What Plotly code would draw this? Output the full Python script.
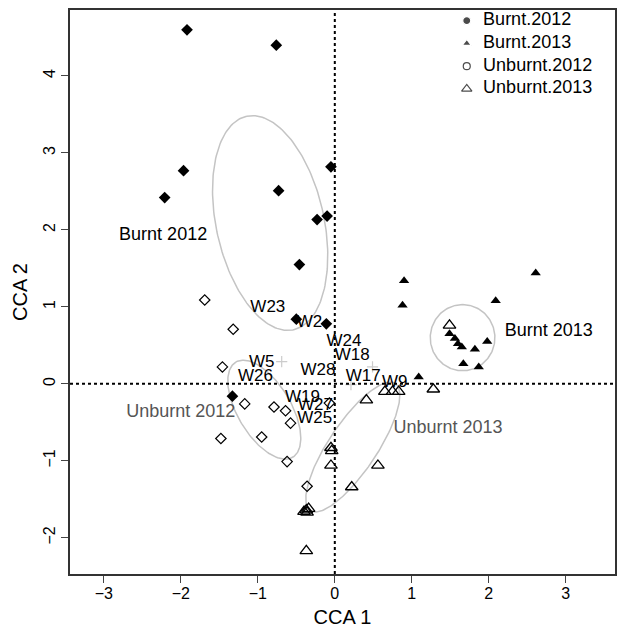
import numpy as np
import plotly.graph_objects as go

# ---- site scores ----
burnt2012_x = [-1.92, -0.76, -1.965, -2.21, -0.73, -0.23, -0.10, -0.05, -0.46, -0.50, -0.11, -1.33]
burnt2012_y = [4.60, 4.40, 2.77, 2.42, 2.51, 2.135, 2.18, 2.82, 1.55, 0.84, 0.78, -0.16]

burnt2013_x = [2.61, 2.09, 0.90, 0.88, 1.49, 1.56, 1.60, 1.65, 1.82, 1.98, 1.67, 1.87, 1.09]
burnt2013_y = [1.44, 1.08, 1.34, 1.02, 0.65, 0.59, 0.52, 0.48, 0.45, 0.55, 0.26, 0.22, 0.09]

unburnt2012_x = [-1.69, -1.32, -1.46, -1.17, -0.79, -0.64, -0.575, -1.48, -0.95, -0.62, -0.36, -0.07]
unburnt2012_y = [1.09, 0.71, 0.22, -0.26, -0.30, -0.35, -0.51, -0.71, -0.69, -1.01, -1.33, -0.25]

unburnt2013_x = [1.49, 1.28, 0.41, 0.65, 0.75, 0.83, -0.05, -0.04, -0.05, 0.56, 0.22,
                 -0.40, -0.37, -0.34, -0.36, -0.37]
unburnt2013_y = [0.76, -0.07, -0.21, -0.10, -0.10, -0.10, -0.83, -0.87, -1.06, -1.06, -1.34,
                 -1.66, -1.64, -1.62, -1.67, -2.17]

# ---- species labels ----
species_names = ["W23", "W2", "W24", "W18", "W5", "W26", "W28", "W17", "W9", "W19", "W27", "W25"]
species_x = [-0.87, -0.33, 0.12, 0.225, -0.95, -1.03, -0.22, 0.37, 0.78, -0.42, -0.25, -0.26]
species_y = [0.995, 0.79, 0.55, 0.36, 0.27, 0.095, 0.173, 0.095, 0.01, -0.18, -0.29, -0.456]

plus_x = [-0.69, 0.21, 0.49]
plus_y = [0.29, -0.01, 0.22]

# ---- group ellipses: centre x, centre y, semi-major, semi-minor, angle(deg) ----
ell_names = ["Burnt 2012", "Burnt 2013", "Unburnt 2012", "Unburnt 2013"]
ell_cx = [-0.84, 1.66, -0.916, 0.234]
ell_cy = [2.09, 0.60, -0.335, -0.82]
ell_a = [1.42, 0.43, 0.72, 0.994]
ell_b = [0.70, 0.42, 0.346, 0.313]
ell_ang = [102.4, 90.0, 120.9, 56.2]

# ---- group labels ----
grp_x = [-2.23, 2.78, -2.0, 1.47]
grp_y = [1.93, 0.675, -0.37, -0.575]
grp_col = ["black", "black", "#555555", "#555555"]

# ---- legend ----
leg_names = ["Burnt.2012", "Burnt.2013", "Unburnt.2012", "Unburnt.2013"]
leg_sym = ["circle", "triangle-up", "circle-open", "triangle-up-open"]
leg_size = [8, 8, 7, 9]

FONT = "Liberation Sans, Arial, sans-serif"
fig = go.Figure()

t = np.linspace(0, 2 * np.pi, 200)
for cx, cy, a, b, ang in zip(ell_cx, ell_cy, ell_a, ell_b, ell_ang):
    th = np.deg2rad(ang)
    ex = cx + a * np.cos(t) * np.cos(th) - b * np.sin(t) * np.sin(th)
    ey = cy + a * np.cos(t) * np.sin(th) + b * np.sin(t) * np.cos(th)
    fig.add_trace(go.Scatter(x=ex, y=ey, mode="lines", line=dict(color="#c4c4c4", width=1.5),
                             showlegend=False, hoverinfo="skip"))

fig.add_trace(go.Scatter(x=plus_x, y=plus_y, mode="markers",
                         marker=dict(symbol="cross-thin", size=8, line=dict(color="#cccccc", width=1.2)),
                         showlegend=False))

fig.add_trace(go.Scatter(x=burnt2012_x, y=burnt2012_y, mode="markers", showlegend=False,
                         marker=dict(symbol="diamond", size=9, color="black")))
fig.add_trace(go.Scatter(x=burnt2013_x, y=burnt2013_y, mode="markers", showlegend=False,
                         marker=dict(symbol="triangle-up", size=9, color="black")))
fig.add_trace(go.Scatter(x=unburnt2012_x, y=unburnt2012_y, mode="markers", showlegend=False,
                         marker=dict(symbol="diamond-open", size=8, color="black", line=dict(width=1.2))))
fig.add_trace(go.Scatter(x=unburnt2013_x, y=unburnt2013_y, mode="markers", showlegend=False,
                         marker=dict(symbol="triangle-up-open", size=11, color="black", line=dict(width=1.3))))

fig.add_trace(go.Scatter(x=species_x, y=species_y, mode="text", text=species_names,
                         textfont=dict(family=FONT, size=17, color="black"), showlegend=False))
fig.add_trace(go.Scatter(x=grp_x, y=grp_y, mode="text", text=ell_names,
                         textfont=dict(family=FONT, size=18, color=grp_col), showlegend=False))

# custom legend on an overlay axis spanning the plot area (0..1 both ways)
n = len(leg_names)
leg_px = [0.728] * n
leg_tx = [0.758] * n
leg_py = [0.981 - i * 0.0403 for i in range(n)]
fig.add_trace(go.Scatter(x=leg_px, y=leg_py, mode="markers", xaxis="x2", yaxis="y2",
                         marker=dict(symbol=leg_sym, size=leg_size, color="black", line=dict(width=1.2)),
                         showlegend=False, hoverinfo="skip"))
fig.add_trace(go.Scatter(x=leg_tx, y=leg_py, mode="text", xaxis="x2", yaxis="y2",
                         text=leg_names, textposition="middle right",
                         textfont=dict(family=FONT, size=18, color="black"),
                         showlegend=False, hoverinfo="skip"))

fig.add_shape(type="line", xref="x", yref="paper", x0=0, x1=0, y0=0, y1=1,
              line=dict(color="black", width=2, dash="dot"))
fig.add_shape(type="line", xref="paper", yref="y", x0=0, x1=1, y0=0, y1=0,
              line=dict(color="black", width=2, dash="dot"))

# page body adds an 8px offset, so figure is 8px smaller with margins compensated
fig.update_layout(
    width=617, height=625,
    margin=dict(l=62, r=10, t=2, b=59),
    plot_bgcolor="white", paper_bgcolor="white",
    font=dict(family=FONT, color="black"),
    showlegend=False,
    xaxis=dict(range=[-3.44, 3.64], tickvals=[-3, -2, -1, 0, 1, 2, 3], ticks="outside", ticklen=7,
               showline=True, mirror=True, linecolor="#333333", linewidth=1.5, showgrid=False,
               zeroline=False, tickfont=dict(size=16), automargin=False, ticklabelstandoff=-3,
               title=dict(text="CCA 1", font=dict(size=20), standoff=9)),
    yaxis=dict(range=[-2.47, 4.857], tickvals=[-2, -1, 0, 1, 2, 3, 4], ticks="outside", ticklen=7,
               showline=True, mirror=True, linecolor="#333333", linewidth=1.5, showgrid=False,
               zeroline=False, tickfont=dict(size=16), tickangle=-90, automargin=False,
               title=dict(text="CCA 2", font=dict(size=20), standoff=8)),
    xaxis2=dict(overlaying="x", range=[0, 1], visible=False, fixedrange=True),
    yaxis2=dict(overlaying="y", range=[0, 1], visible=False, fixedrange=True),
)

fig.write_html("out.html")
